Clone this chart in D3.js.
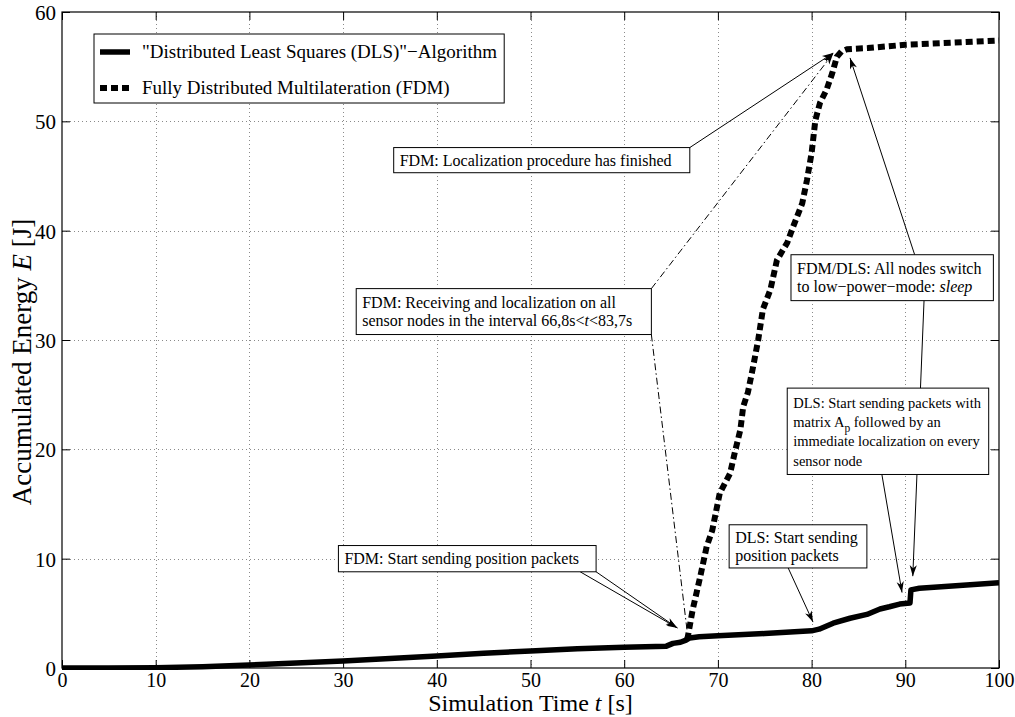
<!DOCTYPE html>
<html><head><meta charset="utf-8">
<script src="https://cdn.jsdelivr.net/npm/d3@7"></script>
<style>body{margin:0;background:#fff}</style>
</head><body>
<svg id="c" width="1015" height="717"></svg>
<script>
// ---- data ----
const dlsTime   = [0, 5, 10, 15, 20, 25, 30, 35, 40, 45, 50, 55, 60, 64.5, 65.2, 66, 66.6, 67, 68, 70, 75, 80, 80.8, 82.3, 84.1, 85.9, 87.3, 88.3, 89.4, 90.5, 90.6, 91.5, 95, 100];
const dlsEnergy = [0, 0, 0.03, 0.12, 0.28, 0.45, 0.65, 0.88, 1.1, 1.35, 1.55, 1.75, 1.9, 2.0, 2.25, 2.35, 2.55, 2.75, 2.85, 2.95, 3.15, 3.4, 3.55, 4.1, 4.55, 4.9, 5.4, 5.6, 5.85, 5.95, 7.15, 7.3, 7.5, 7.8];
const fdmTime   = [66.7, 66.8, 67.3, 68.1, 68.8, 69.4, 70.2, 71.3, 71.8, 72.4, 72.7, 73.2, 73.7, 74.3, 74.8, 75.6, 76.3, 77.4, 78.0, 79.0, 79.5, 80.0, 80.4, 80.9, 81.6, 82.2, 82.7, 83.2, 83.8, 86, 90, 95, 100];
const fdmEnergy = [2.6, 2.9, 5.3, 8.3, 11.1, 12.6, 16.0, 17.8, 19.7, 21.8, 23.9, 25.2, 27.3, 30.0, 32.8, 34.6, 37.3, 38.9, 40.3, 42.5, 44.6, 47.1, 50.1, 51.7, 52.9, 54.4, 55.9, 56.4, 56.6, 56.7, 57.0, 57.2, 57.4];
const xTicks = [0, 10, 20, 30, 40, 50, 60, 70, 80, 90, 100];
const yTicks = [0, 10, 20, 30, 40, 50, 60];
const seriesNames = ['"Distributed Least Squares (DLS)"\u2212Algorithm', 'Fully Distributed Multilateration (FDM)'];
const xLabel = [{t: "Simulation Time "}, {t: "t", i: true}, {t: " [s]"}];
const yLabel = [{t: "Accumulated Energy "}, {t: "E", i: true}, {t: " [J]"}];

// annotation boxes: [t0, E0] top-left, [t1, E1] bottom-right
const annotations = [
  {box: [35.4, 47.6, 67.0, 45.3], fs: 16, lines: [[{t: "FDM: Localization procedure has finished"}]],
   arrows: [{from: [67.0, 47.6], to: [82.3, 56.25], dash: false}]},
  {box: [31.4, 34.7, 62.9, 30.5], fs: 16, lines: [[{t: "FDM: Receiving and localization on all"}],
     [{t: "sensor nodes in the interval 66,8s<"}, {t: "t", i: true}, {t: "<83,7s"}]],
   arrows: [{from: [62.9, 34.7], to: [82.3, 56.2], dash: true}, {from: [62.9, 30.5], to: [66.7, 3.5], dash: true, nohead: true}]},
  {box: [77.8, 37.8, 99.4, 33.6], fs: 16, lines: [[{t: "FDM/DLS: All nodes switch"}],
     [{t: "to low\u2212power\u2212mode: "}, {t: "sleep", i: true}]],
   arrows: [{from: [91.0, 37.8], to: [84.1, 55.8], dash: false}, {from: [92.0, 33.6], to: [90.8, 8.4], dash: false}]},
  {box: [77.4, 25.6, 98.9, 17.7], fs: 14.5, lines: [[{t: "DLS: Start sending packets with"}],
     [{t: "matrix A"}, {t: "p", sub: true}, {t: " followed by an"}],
     [{t: "immediate localization on every"}], [{t: "sensor node"}]],
   arrows: [{from: [87.5, 17.7], to: [89.65, 6.9], dash: false}]},
  {box: [71.2, 13.1, 85.9, 9.15], fs: 16, lines: [[{t: "DLS: Start sending"}], [{t: "position packets"}]],
   arrows: [{from: [77.5, 9.15], to: [80.15, 4.2], dash: false}]},
  {box: [29.5, 11.2, 57.0, 8.8], fs: 16, lines: [[{t: "FDM: Start sending position packets"}]],
   arrows: [{from: [55.3, 8.8], to: [65.7, 3.65], dash: false}, {from: [57.0, 8.8], to: [65.6, 3.7], dash: false}]}
];

// ---- layout ----
const svg = d3.select("#c");
const W = 1015, H = 717;
const m = {l: 62, r: 16, t: 12, b: 49};
const x = d3.scaleLinear().domain([0, 100]).range([m.l, W - m.r]);
const y = d3.scaleLinear().domain([0, 60]).range([H - m.b, m.t]);
const FONT = "'Liberation Serif','Times New Roman',serif";

svg.append("rect").attr("width", W).attr("height", H).attr("fill", "#fff");

const defs = svg.append("defs");
defs.append("marker").attr("id", "ah").attr("viewBox", "-12 -5 13 10")
  .attr("refX", 0).attr("refY", 0).attr("markerWidth", 13).attr("markerHeight", 10)
  .attr("markerUnits", "userSpaceOnUse").attr("orient", "auto")
  .append("path").attr("d", "M0,0 L-11,-3.6 L-8,0 L-11,3.6 Z").attr("fill", "#000");

// grid
const grid = svg.append("g").attr("stroke", "#8a8a8a").attr("stroke-width", 1).attr("stroke-dasharray", "1,3");
grid.selectAll("line.gx").data(xTicks.slice(1, -1)).join("line")
  .attr("x1", d => Math.round(x(d)) + 0.5).attr("x2", d => Math.round(x(d)) + 0.5)
  .attr("y1", y(60)).attr("y2", y(0));
grid.selectAll("line.gy").data(yTicks.slice(1, -1)).join("line")
  .attr("y1", d => Math.round(y(d)) + 0.5).attr("y2", d => Math.round(y(d)) + 0.5)
  .attr("x1", x(0)).attr("x2", x(100));

// axes
const axB = svg.append("g").attr("transform", `translate(0,${y(0)})`)
  .call(d3.axisBottom(x).tickValues(xTicks).tickSizeInner(-8).tickSizeOuter(0).tickPadding(5));
const axL = svg.append("g").attr("transform", `translate(${x(0)},0)`)
  .call(d3.axisLeft(y).tickValues(yTicks).tickSizeInner(-8).tickSizeOuter(0).tickPadding(6));
const axT = svg.append("g").attr("transform", `translate(0,${y(60)})`)
  .call(d3.axisTop(x).tickValues(xTicks).tickSizeInner(-8).tickSizeOuter(0).tickFormat(""));
const axR = svg.append("g").attr("transform", `translate(${x(100)},0)`)
  .call(d3.axisRight(y).tickValues(yTicks).tickSizeInner(-8).tickSizeOuter(0).tickFormat(""));
[axB, axL, axT, axR].forEach(a => {
  a.select(".domain").remove();
  a.selectAll("line").attr("stroke", "#000");
  a.selectAll("text").attr("font-family", FONT).attr("font-size", 21).attr("fill", "#000");
});
axB.selectAll("text").attr("font-size", 20);
axL.selectAll("text").attr("dy", "0.35em");
svg.append("rect").attr("x", x(0)).attr("y", y(60)).attr("width", x(100) - x(0)).attr("height", y(0) - y(60))
  .attr("fill", "none").attr("stroke", "#000").attr("stroke-width", 1.2);

// series
const clipId = "clip";
defs.append("clipPath").attr("id", clipId).append("rect")
  .attr("x", x(0)).attr("y", y(60)).attr("width", x(100) - x(0)).attr("height", y(0) - y(60) + 2);
const line = d3.line().x(d => x(d[0])).y(d => y(d[1]));
svg.append("path").datum(fdmTime.map((t, i) => [t, fdmEnergy[i]]))
  .attr("d", line).attr("fill", "none").attr("stroke", "#000").attr("stroke-width", 6)
  .attr("stroke-dasharray", "7,4").attr("clip-path", `url(#${clipId})`);
svg.append("path").datum(dlsTime.map((t, i) => [t, dlsEnergy[i]]))
  .attr("d", line).attr("fill", "none").attr("stroke", "#000").attr("stroke-width", 5.5)
  .attr("stroke-linejoin", "round").attr("clip-path", `url(#${clipId})`);

// annotations
function addSegs(textSel, segs) {
  segs.forEach((s, k) => {
    const ts = textSel.append("tspan").text(s.t);
    if (s.i) ts.attr("font-style", "italic");
    if (s.sub) ts.attr("font-size", 11.5).attr("dy", 5);
    else if (k > 0 && segs[k - 1].sub) ts.attr("dy", -5);
  });
}
const annG = svg.append("g");
annotations.forEach(a => {
  a.arrows.forEach(ar => {
    const l = annG.append("line")
      .attr("x1", x(ar.from[0])).attr("y1", y(ar.from[1]))
      .attr("x2", x(ar.to[0])).attr("y2", y(ar.to[1]))
      .attr("stroke", "#000").attr("stroke-width", 1);
    if (ar.dash) l.attr("stroke-dasharray", "7,3,1.5,3");
    if (!ar.nohead) l.attr("marker-end", "url(#ah)");
  });
});
annotations.forEach(a => {
  const [t0, e0, t1, e1] = a.box;
  const bx = x(t0), by = y(e0), bw = x(t1) - x(t0), bh = y(e1) - y(e0);
  annG.append("rect").attr("x", bx).attr("y", by).attr("width", bw).attr("height", bh)
    .attr("fill", "#fff").attr("stroke", "#000").attr("stroke-width", 1);
  const n = a.lines.length;
  const lh = n === 4 ? 19.3 : 18;
  const startY = by + bh / 2 - (n - 1) * lh / 2 + 5.5;
  a.lines.forEach((ln, i) => {
    const tx = annG.append("text").attr("x", bx + 6).attr("y", startY + i * lh)
      .attr("font-family", FONT).attr("font-size", a.fs).attr("fill", "#000");
    addSegs(tx, ln);
  });
});

// legend
const lg = svg.append("g");
const lgRect = lg.append("rect").attr("x", 94).attr("y", 34).attr("height", 69)
  .attr("fill", "#fff").attr("stroke", "#000").attr("stroke-width", 1);
const rowsY = [52, 88];
lg.append("line").attr("x1", 100).attr("x2", 130).attr("y1", rowsY[0]).attr("y2", rowsY[0])
  .attr("stroke", "#000").attr("stroke-width", 5.5);
lg.append("line").attr("x1", 100).attr("x2", 133).attr("y1", rowsY[1]).attr("y2", rowsY[1])
  .attr("stroke", "#000").attr("stroke-width", 6).attr("stroke-dasharray", "7,4");
let maxR = 0;
seriesNames.forEach((nm, i) => {
  const t = lg.append("text").attr("x", 142).attr("y", rowsY[i] + 6).attr("font-family", FONT)
    .attr("font-size", 19).attr("fill", "#000").text(nm);
  maxR = Math.max(maxR, t.node().getBBox().x + t.node().getBBox().width);
});
lgRect.attr("width", maxR + 7 - 94);

// axis labels
const xl = svg.append("text").attr("x", (x(0) + x(100)) / 2).attr("y", 711).attr("text-anchor", "middle")
  .attr("font-family", FONT).attr("font-size", 24).attr("fill", "#000");
addSegs(xl, xLabel);
const yl = svg.append("text").attr("transform", `translate(31,${(y(0) + y(60)) / 2 + 22}) rotate(-90)`)
  .attr("text-anchor", "middle").attr("font-family", FONT).attr("font-size", 27).attr("fill", "#000");
addSegs(yl, yLabel);
</script>
</body></html>
